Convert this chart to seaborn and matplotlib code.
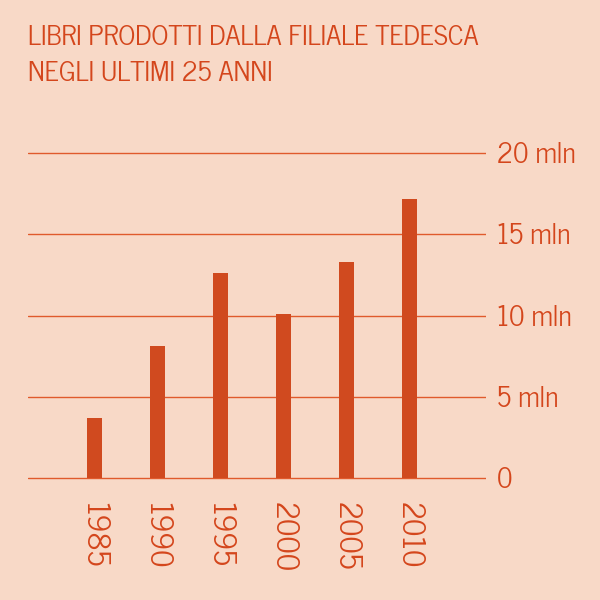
import matplotlib
matplotlib.use("Agg")
import matplotlib.pyplot as plt
import matplotlib.transforms as mtransforms
import seaborn as sns
import pandas as pd

years = ["1985", "1990", "1995", "2000", "2005", "2010"]
books_mln = [3.7, 8.1, 12.6, 10.1, 13.3, 17.2]
yticks = [0, 5, 10, 15, 20]
ytick_labels = ["0", "5 mln", "10 mln", "15 mln", "20 mln"]
title_lines = ["LIBRI PRODOTTI DALLA FILIALE TEDESCA", "NEGLI ULTIMI 25 ANNI"]

BG = "#f8d9c7"
BAR = "#d04a1f"
GRID = "#e05a2c"
TXT = "#d4461c"

sns.set_theme(style="white")
plt.rcParams["font.family"] = ["News Cycle", "DejaVu Sans"]

df = pd.DataFrame({"year": years, "value": books_mln})

fig = plt.figure(figsize=(6, 6), dpi=100, facecolor=BG)
ppu = 16.25
lo, hi = -0.3, 20.5
bottom_px = 478 + (-lo) * ppu
h_px = (hi - lo) * ppu
ax = fig.add_axes([28 / 600, (600 - bottom_px) / 600, (486 - 28) / 600, h_px / 600])
ax.set_facecolor(BG)

sns.barplot(data=df, x="year", y="value", color=BAR, width=0.24, saturation=1,
            linewidth=0, ax=ax, zorder=3)
ax.set_xlim(-1.05, 6.22)
ax.set_ylim(lo, hi)
for s in ax.spines.values():
    s.set_visible(False)
ax.set_yticks(yticks)
ax.set_yticklabels(ytick_labels)
ax.yaxis.tick_right()
ax.grid(axis="y", color=GRID, linewidth=1.0, zorder=0)
ax.grid(axis="x", visible=False)
ax.tick_params(axis="y", length=0, pad=8, labelsize=20, labelcolor=TXT)
ax.tick_params(axis="x", length=0, pad=14, labelsize=22.5, labelcolor=TXT)
shift = mtransforms.ScaledTranslation(0, -0.10, fig.dpi_scale_trans)
for tick in ax.yaxis.get_major_ticks():
    lab = tick.label2
    lab.set_va("baseline")
    lab.set_transform(lab.get_transform() + shift)
for lab in ax.get_xticklabels():
    lab.set_rotation(-90)
    lab.set_va("top")
    lab.set_ha("center")
ax.set_xlabel("")
ax.set_ylabel("")

for i, (line, base) in enumerate(zip(title_lines, [45, 81])):
    fig.text(28 / 600, 1 - base / 600, line, color=TXT, fontsize=19.7,
             va="baseline", ha="left")

fig.savefig("out.png", dpi=100, facecolor=BG)
